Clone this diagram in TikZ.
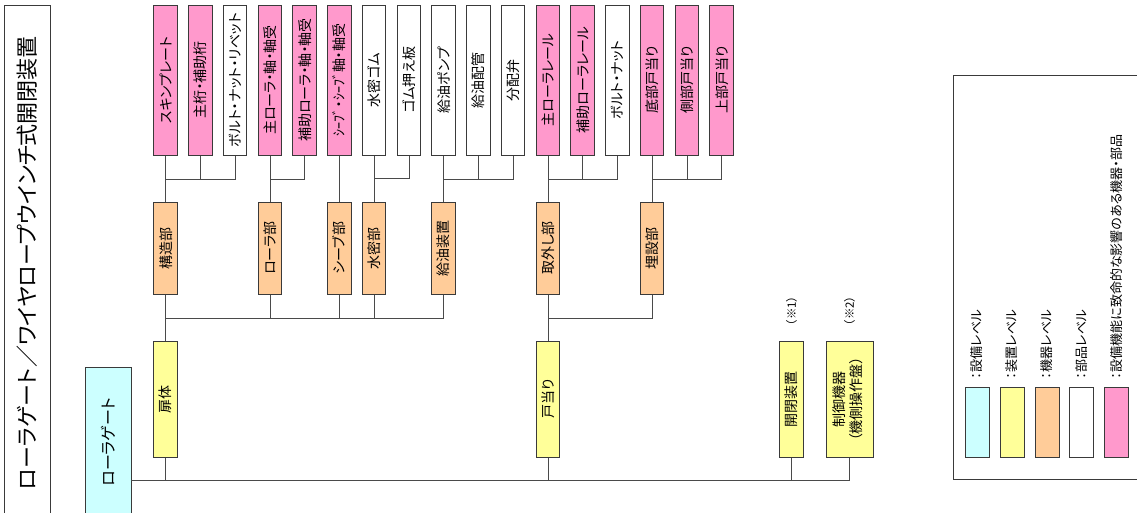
\documentclass[tikz,border=0pt]{standalone}
\usepackage{fontspec}
\setmainfont{Noto Sans CJK JP}[RawFeature={+palt}]
\usepackage{graphicx}
\definecolor{bordergray}{HTML}{3A3A3A}
\definecolor{linegray}{HTML}{4A4A4A}
\definecolor{pinkc}{HTML}{FF99CC}
\definecolor{orangec}{HTML}{FFCC99}
\definecolor{yellowc}{HTML}{FFFF99}
\definecolor{cyanc}{HTML}{CCFFFF}
\newcommand\vtext[1]{\rotatebox{90}{#1}}
\begin{document}
\begin{tikzpicture}[x=1pt,y=-1pt,
  box/.style={draw=bordergray, line width=1pt, inner sep=0pt, minimum width=23.5pt, font=\fontsize{14}{16}\selectfont},
  leaf/.style={box, minimum height=150pt},
  pinkbox/.style={leaf, fill=pinkc},
  whitebox/.style={leaf, fill=white},
  midbox/.style={box, fill=orangec, minimum height=92pt},
  devbox/.style={box, fill=yellowc, minimum height=116pt},
  conn/.style={draw=linegray, line width=1pt},
  legtext/.style={inner sep=0pt, anchor=south, font=\fontsize{13}{15}\selectfont},
  swatch/.style={draw=bordergray, line width=1pt, inner sep=0pt, minimum width=24pt, minimum height=70pt},
  note/.style={inner sep=0pt, font=\fontsize{11.5}{13}\selectfont}]
\useasboundingbox (0,0) rectangle (1137,512);

% title
\node[draw=bordergray, line width=1pt, inner sep=0pt, minimum width=46pt, minimum height=515pt, anchor=north west, font=\fontsize{22}{24}\selectfont] (title) at (4,5) {\vtext{ローラゲート／ワイヤロープウインチ式開閉装置}};

% root
\node[box, fill=cyanc, minimum width=46pt, minimum height=150pt, font=\fontsize{16}{18}\selectfont] (root) at (108,442) {\vtext{ローラゲート}};

% leaves
\node[pinkbox]  (l1)  at (165.7,80) {\vtext{スキンプレート}};
\node[pinkbox]  (l2)  at (200.5,80) {\vtext{主桁・補助桁}};
\node[whitebox] (l3)  at (235.2,80) {\vtext{ボルト・ナット・リベット}};
\node[pinkbox]  (l4)  at (270.0,80) {\vtext{主ローラ・軸・軸受}};
\node[pinkbox]  (l5)  at (304.7,80) {\vtext{補助ローラ・軸・軸受}};
\node[pinkbox]  (l6)  at (339.5,80) {\vtext{ｼｰﾌﾞ・ｼｰﾌﾞ軸・軸受}};
\node[whitebox] (l7)  at (374.2,80) {\vtext{水密ゴム}};
\node[whitebox] (l8)  at (409.0,80) {\vtext{ゴム押え板}};
\node[whitebox] (l9)  at (443.7,80) {\vtext{給油ポンプ}};
\node[whitebox] (l10) at (478.5,80) {\vtext{給油配管}};
\node[whitebox] (l11) at (513.2,80) {\vtext{分配弁}};
\node[pinkbox]  (l12) at (548.0,80) {\vtext{主ローラレール}};
\node[pinkbox]  (l13) at (582.7,80) {\vtext{補助ローラレール}};
\node[whitebox] (l14) at (617.5,80) {\vtext{ボルト・ナット}};
\node[pinkbox]  (l15) at (652.2,80) {\vtext{底部戸当り}};
\node[pinkbox]  (l16) at (687.0,80) {\vtext{側部戸当り}};
\node[pinkbox]  (l17) at (721.7,80) {\vtext{上部戸当り}};

% equipment level
\node[midbox] (o1) at (165.7,248) {\vtext{構造部}};
\node[midbox] (o2) at (270.0,248) {\vtext{ローラ部}};
\node[midbox] (o3) at (339.5,248) {\vtext{シーブ部}};
\node[midbox] (o4) at (374.2,248) {\vtext{水密部}};
\node[midbox] (o5) at (443.7,248) {\vtext{給油装置}};
\node[midbox] (o6) at (548.0,248) {\vtext{取外し部}};
\node[midbox] (o7) at (652.2,248) {\vtext{埋設部}};

% device level
\node[devbox] (d1) at (165.7,399) {\vtext{扉体}};
\node[devbox] (d2) at (548.0,399) {\vtext{戸当り}};
\node[devbox] (d3) at (791.5,399) {\vtext{開閉装置}};
\node[devbox, minimum width=47pt] (d4) at (849.5,399) {\vtext{\begin{tabular}{@{}c@{}}制御機器\\（機側操作盤）\end{tabular}}};
\node[note] (n1) at (791.5,311) {\vtext{（※1）}};
\node[note] (n2) at (849.5,311) {\vtext{（※2）}};

% junctions
\coordinate (j1) at (165.7,179);
\coordinate (j2) at (270.0,179);
\coordinate (j4) at (374.2,178);
\coordinate (j5) at (443.7,179);
\coordinate (j6) at (548.0,179);
\coordinate (j7) at (652.2,179);
\coordinate (k1) at (165.7,318);
\coordinate (k2) at (548.0,318);
\coordinate (rj) at (131,480);

% leaf -> equipment
\draw[conn] (l1) -- (o1);
\draw[conn] (l3.south) |- (j1);
\draw[conn] (l2.south) -- (l2.south |- j1);
\draw[conn] (l4) -- (o2);
\draw[conn] (l5.south) |- (j2);
\draw[conn] (l6) -- (o3);
\draw[conn] (l7) -- (o4);
\draw[conn] (l8.south) |- (j4);
\draw[conn] (l9) -- (o5);
\draw[conn] (l11.south) |- (j5);
\draw[conn] (l10.south) -- (l10.south |- j5);
\draw[conn] (l12) -- (o6);
\draw[conn] (l14.south) |- (j6);
\draw[conn] (l13.south) -- (l13.south |- j6);
\draw[conn] (l15) -- (o7);
\draw[conn] (l17.south) |- (j7);
\draw[conn] (l16.south) -- (l16.south |- j7);

% equipment -> device
\draw[conn] (o1) -- (d1);
\draw[conn] (o5.south) |- (k1);
\draw[conn] (o2.south) -- (o2.south |- k1);
\draw[conn] (o3.south) -- (o3.south |- k1);
\draw[conn] (o4.south) -- (o4.south |- k1);
\draw[conn] (o6) -- (d2);
\draw[conn] (o7.south) |- (k2);

% device -> root
\draw[conn] (d4.south) |- (rj);
\draw[conn] (d1.south) -- (d1.south |- rj);
\draw[conn] (d2.south) -- (d2.south |- rj);
\draw[conn] (d3.south) -- (d3.south |- rj);

% legend
\node[draw=bordergray, line width=1pt, inner sep=0pt, minimum width=215pt, minimum height=404pt, anchor=north west] (legend) at (953,75) {};
\node[swatch, fill=cyanc]   (s1) at (977,422) {};
\node[swatch, fill=yellowc] (s2) at (1012,422) {};
\node[swatch, fill=orangec] (s3) at (1047,422) {};
\node[swatch, fill=white]   (s4) at (1081.5,422) {};
\node[swatch, fill=pinkc]   (s5) at (1116.5,422) {};
\node[legtext] (t1) at (977,379) {\vtext{：設備レベル}};
\node[legtext] (t2) at (1012,379) {\vtext{：装置レベル}};
\node[legtext] (t3) at (1047,379) {\vtext{：機器レベル}};
\node[legtext] (t4) at (1081.5,379) {\vtext{：部品レベル}};
\node[legtext] (t5) at (1116.5,379) {\vtext{：設備機能に致命的な影響のある機器・部品}};
\end{tikzpicture}
\end{document}
